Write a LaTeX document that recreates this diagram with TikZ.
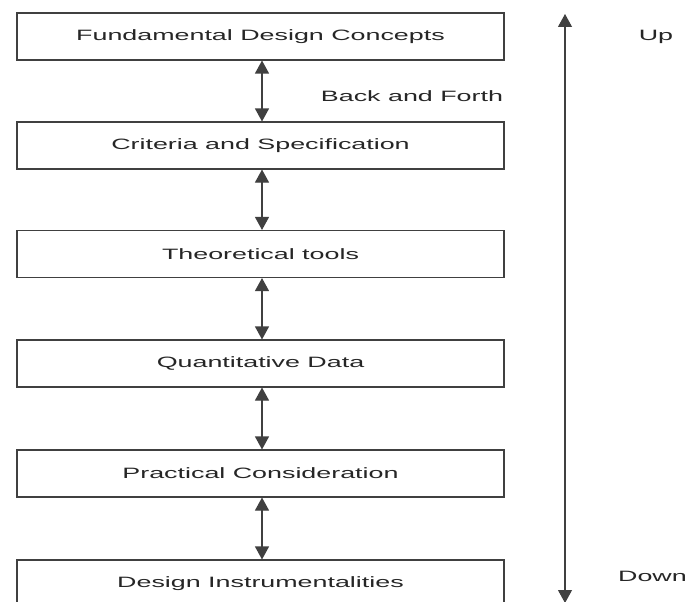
\documentclass[tikz,border=0pt]{standalone}
\usepackage{fontspec}
\newfontfamily\widesans[FakeStretch=1.79]{Liberation Sans}
\usetikzlibrary{arrows.meta}

\tikzset{
	stage/.style={draw=black!75, line width=1.1pt, minimum width=487pt, minimum height=47pt,
		inner sep=0pt, font=\widesans\fontsize{15}{18}\selectfont, text=black!85},
	side/.style={font=\widesans\fontsize{15}{18}\selectfont, text=black!85, inner sep=0pt},
	both/.style={{Triangle[width=14pt,length=13pt]}-{Triangle[width=14pt,length=13pt]}, line width=1.1pt, draw=black!75, fill=black!90}
}

\begin{document}
\begin{tikzpicture}[x=1pt,y=-1pt]
			\useasboundingbox (0,0) rectangle (688,602);
			\clip (0,0) rectangle (688,602);
			\fill[white] (0,0) rectangle (688,602);
			
			% the six levels
			\node[stage] (concepts) at (260.5,36.5) {Fundamental Design Concepts};
			\node[stage] (criteria) at (260.5,145.5) {Criteria and Specification};
			\node[stage] (tools) at (260.5,254) {Theoretical tools};
			\node[stage] (data) at (260.5,363.5) {Quantitative Data};
			\node[stage] (practical) at (260.5,473.5) {Practical Consideration};
			\node[stage] (instr) at (260.5,583.5) {Design Instrumentalities};
			
			\draw[both] (concepts.south -| 262,0) -- (criteria.north -| 262,0);
			\draw[both] (criteria.south -| 262,0) -- (tools.north -| 262,0);
			\draw[both] (tools.south -| 262,0) -- (data.north -| 262,0);
			\draw[both] (data.south -| 262,0) -- (practical.north -| 262,0);
			\draw[both] (practical.south -| 262,0) -- (instr.north -| 262,0);
			
			\node[side] (back) at (412,96) {Back and Forth};
			
			% up / down axis
			\coordinate (top) at (565,14);
			\coordinate (bot) at (565,603);
			\draw[both] (top) -- (bot);
			\node[side] (up) at (656,37) {Up};
			\node[side, anchor=east] (down) at (687,576) {Down};
\end{tikzpicture}
\end{document}
